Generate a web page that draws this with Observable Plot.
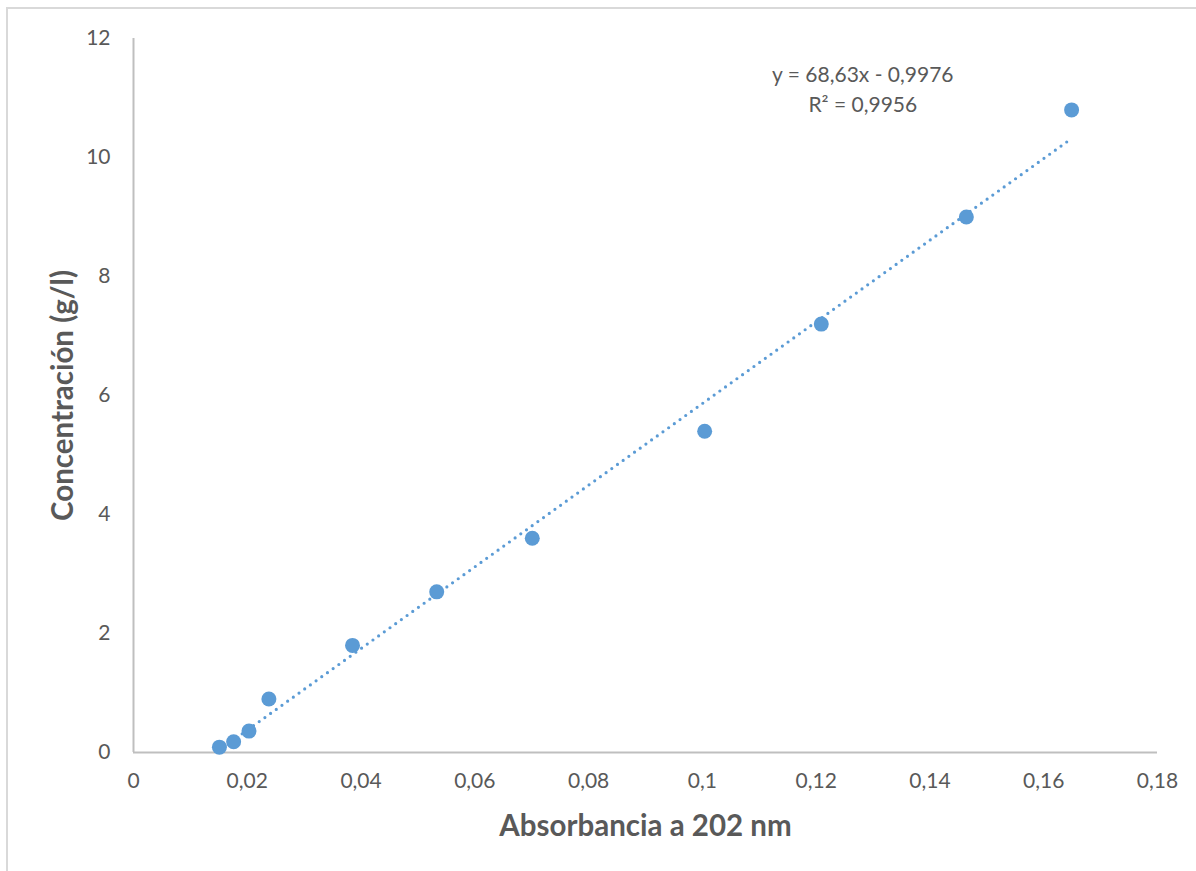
<!DOCTYPE html>
<html>
<head>
<meta charset="utf-8">
<script src="https://cdn.jsdelivr.net/npm/d3@7"></script>
<script src="https://cdn.jsdelivr.net/npm/@observablehq/plot@0.6"></script>
<style>
  html, body { margin: 0; padding: 0; background: #fff; overflow: hidden; }
  #wrap { position: relative; width: 1196px; height: 871px; }
  #wrap svg { position: absolute; left: 0; top: 0; }
  #border { position: absolute; left: 6px; top: 7px; width: 1300px; height: 1000px;
            border: 2px solid #d9d9d9; pointer-events: none; }
</style>
</head>
<body>
<div id="wrap"><div id="border"></div></div>
<script>
// Calibration data: absorbance at 202 nm vs. concentration (g/l)
const absorbance = [0.0151, 0.0176, 0.0203, 0.0238, 0.0385, 0.0533, 0.0701, 0.1004, 0.1209, 0.1464, 0.1649];
const concentration = [0.09, 0.18, 0.36, 0.9, 1.8, 2.7, 3.6, 5.4, 7.2, 9.0, 10.8];

// Linear trendline as reported on the chart
const slope = 68.63;
const intercept = -0.9976;
const equationLines = ["y = 68,63x - 0,9976", "R² = 0,9956"];
const equationAnchor = {x: 0.1282, y: [11.38, 10.88]};

const xTicks = [0, 0.02, 0.04, 0.06, 0.08, 0.1, 0.12, 0.14, 0.16, 0.18];
const yTicks = [0, 2, 4, 6, 8, 10, 12];

const points = absorbance.map((a, i) => ({a, c: concentration[i]}));
const xMin = d3.min(absorbance), xMax = d3.max(absorbance);
const trend = [xMin, xMax].map(a => ({a, c: slope * a + intercept}));
const eqRows = equationLines.map((t, i) => ({t, a: equationAnchor.x, c: equationAnchor.y[i]}));

const comma = d => String(d).replace(".", ",");
const grey = "#595959";
const blue = "#5b9bd5";

const chart = Plot.plot({
  width: 1196,
  height: 871,
  marginLeft: 133,
  marginRight: 39,
  marginTop: 38,
  marginBottom: 119,
  style: {fontFamily: "Lato, 'Open Sans', sans-serif", color: grey, background: "transparent"},
  x: {domain: [0, 0.18], ticks: xTicks, tickFormat: comma},
  y: {domain: [0, 12], ticks: yTicks, tickFormat: comma},
  marks: [
    Plot.axisX({ticks: xTicks, tickFormat: comma, tickSize: 0, tickPadding: 21, fontSize: 21, fill: grey, label: null}),
    Plot.axisY({ticks: yTicks, tickFormat: comma, tickSize: 0, tickPadding: 23, fontSize: 21, fill: grey, label: null}),
    Plot.ruleY([0], {stroke: "#bfbfbf", strokeWidth: 2}),
    Plot.ruleX([0], {stroke: "#bfbfbf", strokeWidth: 2}),
    Plot.line(trend, {x: "a", y: "c", stroke: blue, strokeWidth: 3.2, strokeDasharray: "0,7", strokeLinecap: "round"}),
    Plot.dot(points, {x: "a", y: "c", r: 7.5, fill: blue, stroke: "none"}),
    Plot.text(eqRows, {x: "a", y: "c", text: "t", fontSize: 21, fill: grey, textAnchor: "middle"}),
    Plot.text(["Absorbancia a 202 nm"], {frameAnchor: "bottom", lineAnchor: "middle", dy: 74, fontSize: 29.5, fontWeight: "bold", fill: grey}),
    Plot.text(["Concentración (g/l)"], {frameAnchor: "left", textAnchor: "middle", lineAnchor: "middle", dx: -70, rotate: -90, fontSize: 29.5, fontWeight: "bold", fill: grey})
  ]
});

document.getElementById("wrap").prepend(chart);
</script>
</body>
</html>
